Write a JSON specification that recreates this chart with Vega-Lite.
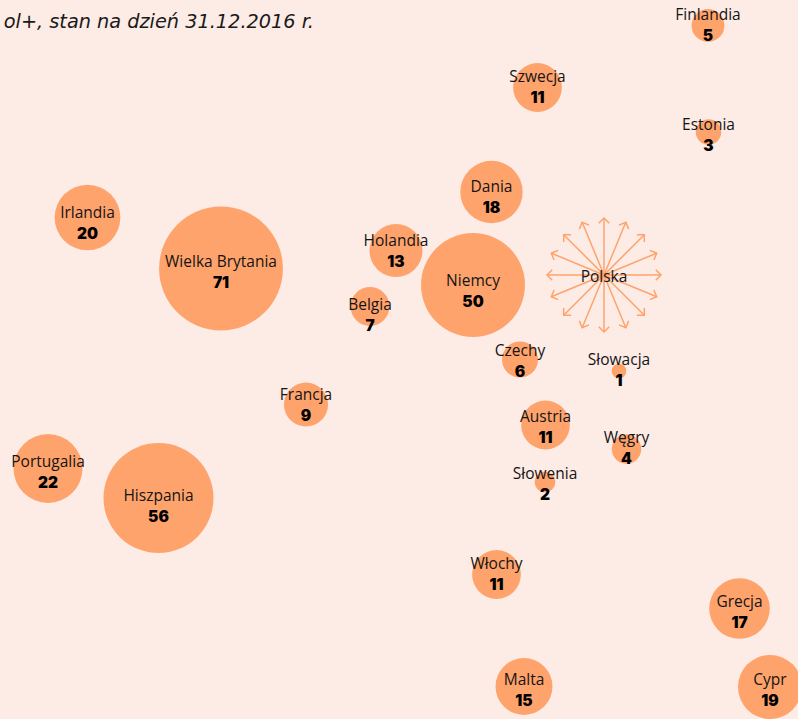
{
  "$schema": "https://vega.github.io/schema/vega-lite/v6.json",
  "width": 798,
  "height": 719,
  "padding": 0,
  "autosize": {"type": "none"},
  "background": "#fdebe5",
  "config": {"view": {"stroke": null}},
  "datasets": {
    "countries": [
      {"name": "Finlandia", "value": 5, "x": 708, "y": 25.5, "ly": 15},
      {"name": "Szwecja", "value": 11, "x": 537.5, "y": 87.5, "ly": 77},
      {"name": "Estonia", "value": 3, "x": 708.5, "y": 132, "ly": 125},
      {"name": "Dania", "value": 18, "x": 491.5, "y": 192, "ly": 187},
      {"name": "Irlandia", "value": 20, "x": 87.5, "y": 217.5, "ly": 213},
      {"name": "Wielka Brytania", "value": 71, "x": 221, "y": 268.5, "ly": 262},
      {"name": "Holandia", "value": 13, "x": 396, "y": 250.5, "ly": 241},
      {"name": "Niemcy", "value": 50, "x": 473, "y": 285, "ly": 281},
      {"name": "Belgia", "value": 7, "x": 370, "y": 306.5, "ly": 305},
      {"name": "Czechy", "value": 6, "x": 520, "y": 359.5, "ly": 351},
      {"name": "Słowacja", "value": 1, "x": 619, "y": 371, "ly": 360},
      {"name": "Francja", "value": 9, "x": 306, "y": 404.5, "ly": 395},
      {"name": "Austria", "value": 11, "x": 545.5, "y": 425, "ly": 417},
      {"name": "Węgry", "value": 4, "x": 626.5, "y": 449, "ly": 438},
      {"name": "Słowenia", "value": 2, "x": 545, "y": 482, "ly": 474},
      {"name": "Portugalia", "value": 22, "x": 48, "y": 468.5, "ly": 462},
      {"name": "Hiszpania", "value": 56, "x": 158.5, "y": 498, "ly": 496},
      {"name": "Włochy", "value": 11, "x": 496.5, "y": 574.5, "ly": 564},
      {"name": "Grecja", "value": 17, "x": 739.5, "y": 608.5, "ly": 602},
      {"name": "Malta", "value": 15, "x": 524, "y": 686.5, "ly": 680},
      {"name": "Cypr", "value": 19, "x": 770, "y": 687, "ly": 680}
    ],
    "arrows": [
      {"a": 0, "ex": 661, "ey": 275, "cx": 604, "cy": 275},
      {"a": 22.5, "ex": 656.7, "ey": 296.8, "cx": 604, "cy": 275},
      {"a": 45, "ex": 644.3, "ey": 315.3, "cx": 604, "cy": 275},
      {"a": 67.5, "ex": 625.8, "ey": 327.7, "cx": 604, "cy": 275},
      {"a": 90, "ex": 604, "ey": 332, "cx": 604, "cy": 275},
      {"a": 112.5, "ex": 582.2, "ey": 327.7, "cx": 604, "cy": 275},
      {"a": 135, "ex": 563.7, "ey": 315.3, "cx": 604, "cy": 275},
      {"a": 157.5, "ex": 551.3, "ey": 296.8, "cx": 604, "cy": 275},
      {"a": 180, "ex": 547, "ey": 275, "cx": 604, "cy": 275},
      {"a": 202.5, "ex": 551.3, "ey": 253.2, "cx": 604, "cy": 275},
      {"a": 225, "ex": 563.7, "ey": 234.7, "cx": 604, "cy": 275},
      {"a": 247.5, "ex": 582.2, "ey": 222.3, "cx": 604, "cy": 275},
      {"a": 270, "ex": 604, "ey": 218, "cx": 604, "cy": 275},
      {"a": 292.5, "ex": 625.8, "ey": 222.3, "cx": 604, "cy": 275},
      {"a": 315, "ex": 644.3, "ey": 234.7, "cx": 604, "cy": 275},
      {"a": 337.5, "ex": 656.7, "ey": 253.2, "cx": 604, "cy": 275}
    ],
    "labels": [
      {"t": "ol+, stan na dzień 31.12.2016 r.", "x": 314, "y": 22, "kind": "title"},
      {"t": "Polska", "x": 604, "y": 277, "kind": "polska"}
    ]
  },
  "layer": [
    {
      "data": {"name": "arrows"},
      "mark": {"type": "rule", "stroke": "#ffa36c", "strokeWidth": 1.5},
      "encoding": {
        "x": {"field": "ex", "type": "quantitative", "scale": {"domain": [0, 798], "nice": false, "zero": false}, "axis": null},
        "y": {"field": "ey", "type": "quantitative", "scale": {"domain": [0, 719], "nice": false, "zero": false, "reverse": true}, "axis": null},
        "x2": {"field": "cx"},
        "y2": {"field": "cy"}
      }
    },
    {
      "data": {"name": "arrows"},
      "mark": {"type": "point", "shape": "M-1,-1L0,0L-1,1", "filled": false, "stroke": "#ffa36c", "strokeWidth": 1.5, "size": 110, "opacity": 1},
      "encoding": {
        "x": {"field": "ex", "type": "quantitative"},
        "y": {"field": "ey", "type": "quantitative"},
        "angle": {"field": "a", "type": "quantitative", "scale": null}
      }
    },
    {
      "data": {"name": "countries"},
      "mark": {"type": "circle", "color": "#ffa36c", "opacity": 1},
      "encoding": {
        "x": {"field": "x", "type": "quantitative"},
        "y": {"field": "y", "type": "quantitative"},
        "size": {"field": "value", "type": "quantitative", "scale": {"type": "linear", "domain": [0, 100], "range": [0, 21600]}, "legend": null}
      }
    },
    {
      "data": {"name": "countries"},
      "mark": {"type": "text", "font": "Open Sans", "fontSize": 15.5, "color": "#141414", "align": "center", "baseline": "middle"},
      "encoding": {
        "x": {"field": "x", "type": "quantitative"},
        "y": {"field": "ly", "type": "quantitative"},
        "text": {"field": "name"}
      }
    },
    {
      "data": {"name": "countries"},
      "mark": {"type": "text", "font": "Inter", "fontWeight": 900, "fontSize": 15.5, "color": "#000000", "align": "center", "baseline": "middle", "dy": 21},
      "encoding": {
        "x": {"field": "x", "type": "quantitative"},
        "y": {"field": "ly", "type": "quantitative"},
        "text": {"field": "value", "type": "quantitative"}
      }
    },
    {
      "data": {"name": "labels"},
      "transform": [{"filter": "datum.kind === 'polska'"}],
      "mark": {"type": "text", "font": "Open Sans", "fontSize": 15.5, "color": "#141414", "align": "center", "baseline": "middle"},
      "encoding": {
        "x": {"field": "x", "type": "quantitative"},
        "y": {"field": "y", "type": "quantitative"},
        "text": {"field": "t"}
      }
    },
    {
      "data": {"name": "labels"},
      "transform": [{"filter": "datum.kind === 'title'"}],
      "mark": {"type": "text", "font": "DejaVu Sans", "fontStyle": "italic", "fontSize": 19.3, "color": "#1a1a1a", "align": "right", "baseline": "middle"},
      "encoding": {
        "x": {"field": "x", "type": "quantitative"},
        "y": {"field": "y", "type": "quantitative"},
        "text": {"field": "t"}
      }
    }
  ]
}
